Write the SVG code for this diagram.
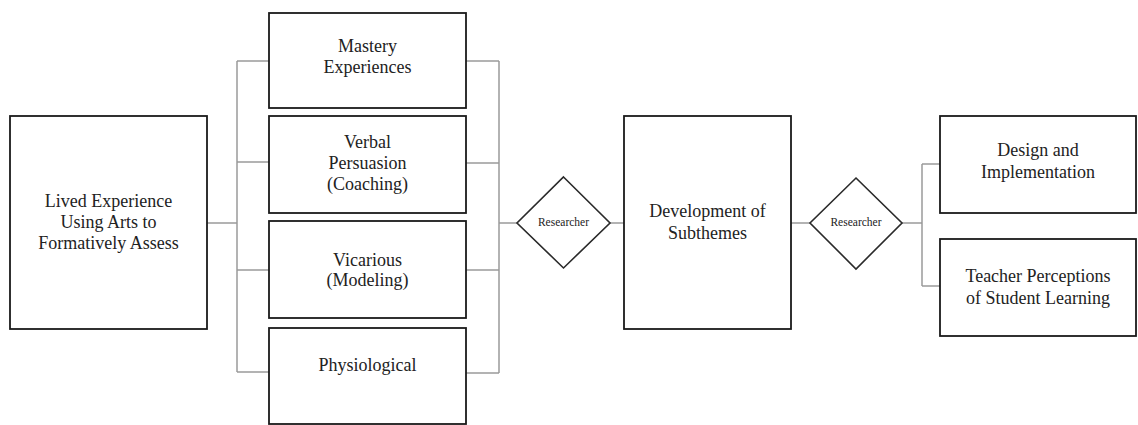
<svg xmlns="http://www.w3.org/2000/svg" width="1138" height="425" viewBox="0 0 1138 425">
<style>
.box{fill:#fff;stroke:#1a1a1a;stroke-width:1.8}
.dia{fill:#fff;stroke:#2a2a2a;stroke-width:1.6}
.t{font-family:"Liberation Serif","Times New Roman",serif;font-size:18px;fill:#222;text-anchor:middle}
.s{font-family:"Liberation Serif","Times New Roman",serif;font-size:11.5px;fill:#222;text-anchor:middle}
.c{fill:none;stroke:#9a9a9a;stroke-width:1.5}
</style>
<rect width="1138" height="425" fill="#fff"/>
<g id="connectors">
<path class="c" d="M207 223H237M237 61V372M237 61H269M237 162H269M237 270H269M237 372H269"/>
<path class="c" d="M466 61H499M466 163H499M466 270H499M466 373H499M499 61V373M499 223H517"/>
<path class="c" d="M610 223H624M791 223H810M902 223H922M922 164V286M922 164H940M922 286H940"/>
</g>
<g id="lived">
<rect class="box" x="10" y="116" width="197" height="213"/>
<text class="t" x="108.5" y="207">Lived Experience</text>
<text class="t" x="108.5" y="228">Using Arts to</text>
<text class="t" x="108.5" y="249">Formatively Assess</text>
</g>
<g id="mastery">
<rect class="box" x="269" y="13" width="197" height="95"/>
<text class="t" x="367.5" y="52">Mastery</text>
<text class="t" x="367.5" y="73">Experiences</text>
</g>
<g id="verbal">
<rect class="box" x="269" y="116" width="197" height="97"/>
<text class="t" x="367.5" y="148">Verbal</text>
<text class="t" x="367.5" y="169">Persuasion</text>
<text class="t" x="367.5" y="190">(Coaching)</text>
</g>
<g id="vicarious">
<rect class="box" x="269" y="221" width="197" height="97"/>
<text class="t" x="367.5" y="266">Vicarious</text>
<text class="t" x="367.5" y="286">(Modeling)</text>
</g>
<g id="physiological">
<rect class="box" x="269" y="328" width="197" height="96"/>
<text class="t" x="367.5" y="371">Physiological</text>
</g>
<g id="researcher1">
<polygon class="dia" points="563.5,177 610,223 563.5,268 517,223"/>
<text class="s" x="563.5" y="226">Researcher</text>
</g>
<g id="development">
<rect class="box" x="624" y="116" width="167" height="213"/>
<text class="t" x="707.5" y="217">Development of</text>
<text class="t" x="707.5" y="239">Subthemes</text>
</g>
<g id="researcher2">
<polygon class="dia" points="856,178 902,223 856,269 810,223"/>
<text class="s" x="856" y="226">Researcher</text>
</g>
<g id="design">
<rect class="box" x="940" y="116" width="196" height="97"/>
<text class="t" x="1038" y="156">Design and</text>
<text class="t" x="1038" y="178">Implementation</text>
</g>
<g id="teacher">
<rect class="box" x="940" y="239" width="196" height="97"/>
<text class="t" x="1038" y="282">Teacher Perceptions</text>
<text class="t" x="1038" y="304">of Student Learning</text>
</g>
</svg>
